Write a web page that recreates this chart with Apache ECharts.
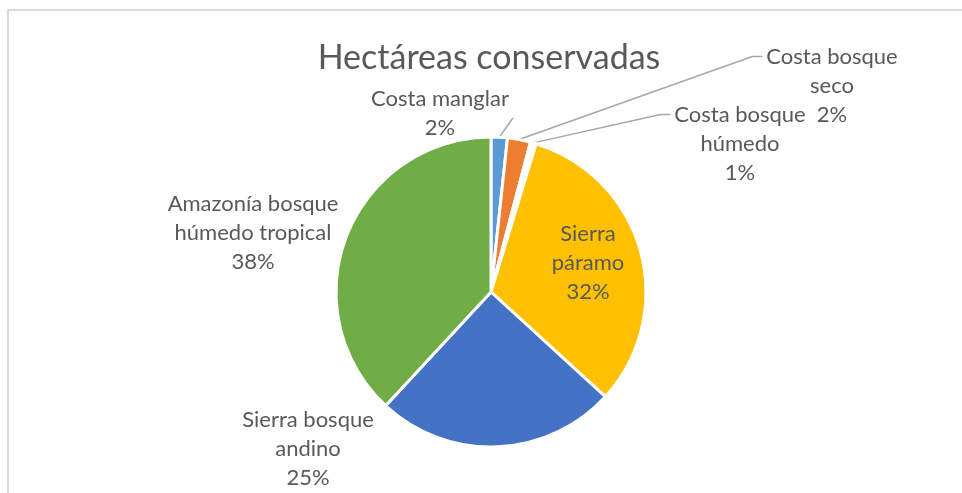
<!DOCTYPE html>
<html>
<head>
<meta charset="utf-8">
<script src="https://cdn.jsdelivr.net/npm/echarts@6/dist/echarts.min.js"></script>
<style>
  html, body { margin: 0; padding: 0; background: #fff; }
  #chart { width: 962px; height: 493px; }
</style>
</head>
<body>
<div id="chart"></div>
<script>
// slice order, clockwise from 12 o'clock
const categories = [
  'Costa manglar',
  'Costa bosque\nseco',
  'Costa bosque\nhúmedo',
  'Sierra\npáramo',
  'Sierra bosque\nandino',
  'Amazonía bosque\nhúmedo tropical'
];
const shares = [1.7, 2.4, 0.6, 32.1, 25.1, 38.1];
const colors = ['#5B9BD5', '#ED7D31', '#FFFFFF', '#FFC000', '#4472C4', '#70AD47'];

// label block centres (px) and whether a leader line is drawn
const labelPos = [[440, 113], [832, 86], [740, 144], [588, 263], [308, 449], [253, 233]];
const hasLeader = [true, true, true, false, false, false];

const chart = echarts.init(document.getElementById('chart'));

const option = {
  animation: false,
  title: {
    text: 'Hectáreas conservadas',
    left: 484,
    top: 36,
    textAlign: 'center',
    textStyle: {
      fontFamily: 'Lato',
      fontSize: 34,
      fontWeight: 'normal',
      color: '#595959'
    }
  },
  graphic: [{
    type: 'rect',
    shape: { x: 8, y: 10, width: 1000, height: 600 },
    style: { fill: 'none', stroke: '#D9D9D9', lineWidth: 2 },
    silent: true
  }],
  series: [{
    type: 'pie',
    center: [491, 292],
    radius: 155,
    startAngle: 90,
    clockwise: true,
    itemStyle: { borderColor: '#fff', borderWidth: 3 },
    label: {
      show: true,
      position: 'outside',
      fontFamily: 'Lato',
      fontSize: 22,
      lineHeight: 29,
      color: '#595959',
      align: 'center',
      formatter: p => p.name + '\n' + Math.round(p.percent) + '%'
    },
    labelLine: {
      show: true,
      length: 10,
      length2: 10,
      lineStyle: { color: '#A6A6A6', width: 1.5 }
    },
    labelLayout: function (params) {
      const i = params.dataIndex;
      const [x, y] = labelPos[i];
      const out = { x: x, y: y, align: 'center', verticalAlign: 'middle' };
      if (hasLeader[i] && params.labelLinePoints) {
        const start = params.labelLinePoints[0];
        const r = params.labelRect;
        if (i === 0) {
          // short line up to the lower right of the label
          out.labelLinePoints = [start, [x + r.width / 2 + 4, y + r.height / 2 - 24]];
        } else {
          const ly = y - r.height / 2 + 14;
          const lx = x - r.width / 2 - 4;
          out.labelLinePoints = [start, [lx - 10, ly], [lx, ly]];
        }
      }
      return out;
    },
    data: categories.map((name, i) => ({
      name: name,
      value: shares[i],
      itemStyle: { color: colors[i] },
      labelLine: { show: hasLeader[i] }
    }))
  }]
};

chart.setOption(option);
</script>
</body>
</html>
